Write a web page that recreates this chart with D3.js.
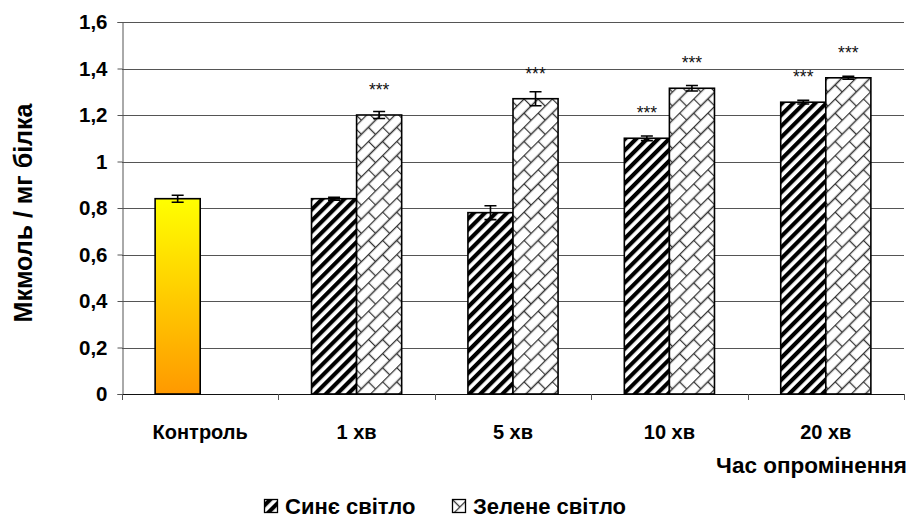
<!DOCTYPE html>
<html>
<head>
<meta charset="utf-8">
<script src="https://cdn.jsdelivr.net/npm/d3@7"></script>
<style>
  html, body { margin: 0; padding: 0; background: #fff; }
  svg { display: block; font-family: "Liberation Sans", Arial, sans-serif; }
</style>
</head>
<body>
<svg id="chart" width="911" height="528"></svg>
<script>
// Irradiation time groups
const categories = ["Контроль", "1 хв", "5 хв", "10 хв", "20 хв"];

// Control level (single bar in the first group)
const controlValues = [0.84, null, null, null, null];
const controlErrors = [0.015, null, null, null, null];

// Blue light series
const blueValues = [null, 0.84, 0.78, 1.10, 1.255];
const blueErrors = [null, 0.006, 0.03, 0.01, 0.008];
const blueMarks = ["", "", "", "***", "***"];

// Green light series
const greenValues = [null, 1.20, 1.27, 1.315, 1.36];
const greenErrors = [null, 0.015, 0.03, 0.012, 0.006];
const greenMarks = ["", "***", "***", "***", "***"];

const yTickValues = [0, 0.2, 0.4, 0.6, 0.8, 1.0, 1.2, 1.4, 1.6];
const legendLabels = ["Синє світло", "Зелене світло"];
const yTitle = "Мкмоль / мг білка";
const xTitle = "Час опромінення";

const svg = d3.select("#chart");
const margin = { left: 122, right: 7, top: 22, bottom: 134 };
const W = 911, H = 528;

const x = d3.scaleBand().domain(categories)
  .range([margin.left, W - margin.right]).paddingInner(0).paddingOuter(0);
const slot = d3.scaleBand().domain(["a", "b"])
  .range([0, x.bandwidth()]).paddingInner(0).paddingOuter(0.735);
const y = d3.scaleLinear().domain([0, 1.6]).range([H - margin.bottom, margin.top]);

const locale = d3.formatLocale({ decimal: ",", thousands: " ", grouping: [3], currency: ["", ""] });
const fmt = locale.format(".1~f");

// ----- patterns -----
const defs = svg.append("defs");

const grad = defs.append("linearGradient").attr("id", "ctrlGrad")
  .attr("x1", 0).attr("y1", 0).attr("x2", 0).attr("y2", 1);
grad.append("stop").attr("offset", "0%").attr("stop-color", "#ffff00");
grad.append("stop").attr("offset", "100%").attr("stop-color", "#ff9900");

// wide upward diagonal stripes
const stripe = defs.append("pattern").attr("id", "stripes")
  .attr("patternUnits", "userSpaceOnUse")
  .attr("width", 7.8).attr("height", 7.8)
  .attr("patternTransform", "rotate(45)");
stripe.append("rect").attr("width", 7.8).attr("height", 7.8).attr("fill", "#fff");
stripe.append("rect").attr("x", 0).attr("width", 4.1).attr("height", 7.8).attr("fill", "#000");

// diagonal brick
const brick = defs.append("pattern").attr("id", "brick")
  .attr("patternUnits", "userSpaceOnUse")
  .attr("width", 20).attr("height", 20)
  .attr("patternTransform", "rotate(-45)");
brick.append("rect").attr("width", 20).attr("height", 20).attr("fill", "#fff");
brick.append("path")
  .attr("d", "M0,0.5H20 M0,10.5H20 M0.5,0.5V10.5 M10.5,10.5V20.5")
  .attr("stroke", "#333").attr("stroke-width", 1.3).attr("fill", "none");

// ----- gridlines -----
const plot = svg.append("g");
plot.selectAll("line.grid").data(yTickValues.filter(v => v > 0)).join("line")
  .attr("class", "grid")
  .attr("x1", margin.left).attr("x2", W - margin.right)
  .attr("y1", d => Math.round(y(d)) + 0.5).attr("y2", d => Math.round(y(d)) + 0.5)
  .attr("stroke", "#555").attr("stroke-width", 1);

// ----- axes -----
const yAxis = d3.axisLeft(y).tickValues(yTickValues).tickFormat(fmt).tickSize(5).tickPadding(10);
const gy = svg.append("g").attr("transform", `translate(${margin.left + 0.5},0)`).call(yAxis);
gy.select(".domain").attr("stroke", "#555");
gy.selectAll(".tick line").attr("stroke", "#555");
gy.selectAll(".tick text").attr("font-size", 20.5).attr("font-weight", "bold")
  .attr("fill", "#000").attr("font-family", "Liberation Sans, Arial, sans-serif");

// bottom axis: boundary ticks between groups
const boundaries = d3.range(categories.length + 1).map(i => margin.left + i * x.step());
const gx = svg.append("g");
gx.append("line").attr("x1", margin.left).attr("x2", W - margin.right)
  .attr("y1", y(0) + 0.5).attr("y2", y(0) + 0.5).attr("stroke", "#111").attr("stroke-width", 1.2);
gx.selectAll("line.tk").data(boundaries).join("line").attr("class", "tk")
  .attr("x1", d => Math.round(d) + 0.5).attr("x2", d => Math.round(d) + 0.5)
  .attr("y1", y(0)).attr("y2", y(0) + 6).attr("stroke", "#555");
gx.selectAll("text").data(categories).join("text")
  .attr("x", d => x(d) + x.bandwidth() / 2).attr("y", y(0) + 45)
  .attr("text-anchor", "middle").attr("font-size", 20).attr("font-weight", "bold")
  .text(d => d);

// ----- bars -----
const series = [
  { key: "ctrl", slot: "a", values: controlValues, errors: controlErrors, marks: null, fill: "url(#ctrlGrad)" },
  { key: "blue", slot: "a", values: blueValues, errors: blueErrors, marks: blueMarks, fill: "url(#stripes)" },
  { key: "green", slot: "b", values: greenValues, errors: greenErrors, marks: greenMarks, fill: "url(#brick)" }
];

const barsG = svg.append("g");
series.forEach(s => {
  const rows = categories.map((c, i) => ({ c, v: s.values[i], e: s.errors[i], m: s.marks ? s.marks[i] : "" }))
    .filter(r => r.v != null);
  const g = barsG.append("g");
  g.selectAll("rect").data(rows).join("rect")
    .attr("x", r => x(r.c) + slot(s.slot))
    .attr("y", r => y(r.v))
    .attr("width", slot.bandwidth())
    .attr("height", r => y(0) - y(r.v))
    .attr("fill", s.fill)
    .attr("stroke", "#000").attr("stroke-width", 1.6);

  // error bars
  const cx = r => x(r.c) + slot(s.slot) + slot.bandwidth() / 2;
  g.selectAll("path.err").data(rows).join("path").attr("class", "err")
    .attr("d", r => {
      const c = cx(r), t = y(r.v + r.e), b = y(r.v - r.e);
      return `M${c},${t}V${b}M${c - 6},${t}H${c + 6}M${c - 6},${b}H${c + 6}`;
    })
    .attr("stroke", "#000").attr("stroke-width", 1.6).attr("fill", "none");

  // significance marks
  g.selectAll("text.mark").data(rows.filter(r => r.m)).join("text").attr("class", "mark")
    .attr("x", cx).attr("y", r => y(r.v) - 19)
    .attr("text-anchor", "middle").attr("font-size", 17.5).attr("fill", "#111")
    .text(r => r.m);
});

// ----- titles -----
svg.append("text")
  .attr("transform", `translate(32,${(y(0) + y(1.6)) / 2 + 5}) rotate(-90)`)
  .attr("text-anchor", "middle").attr("font-size", 25).attr("font-weight", "bold")
  .text(yTitle);

svg.append("text").attr("x", 907).attr("y", 473)
  .attr("text-anchor", "end").attr("font-size", 22.5).attr("font-weight", "bold")
  .text(xTitle);

// ----- legend -----
const legend = svg.append("g").attr("transform", "translate(264,514)");
const legendFills = ["url(#stripes)", "url(#brick)"];
const legendX = [0, 188];
legendLabels.forEach((lab, i) => {
  const g = legend.append("g").attr("transform", `translate(${legendX[i]},0)`);
  g.append("rect").attr("x", 0.5).attr("y", -14.5).attr("width", 13).attr("height", 13)
    .attr("fill", legendFills[i]).attr("stroke", "#000").attr("stroke-width", 1.3);
  g.append("text").attr("x", 21).attr("y", 0).attr("font-size", 22).attr("font-weight", "bold")
    .text(lab);
});
</script>
</body>
</html>
